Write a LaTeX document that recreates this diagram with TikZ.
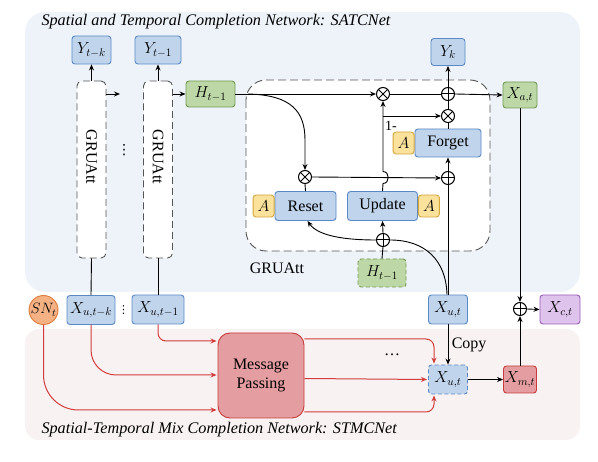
\RequirePackage{fix-cm}
\documentclass[tikz,border=0pt]{standalone}
\usepackage{fontspec}
\setmainfont{Liberation Serif}
\newfontfamily\dejavu{DejaVu Sans}
\usetikzlibrary{arrows.meta}
\definecolor{panelblue}{HTML}{EEF3F9}
\definecolor{panelpink}{HTML}{F9F2F2}
\definecolor{bfill}{HTML}{C0D4EC}
\definecolor{bdraw}{HTML}{5A8AC6}
\definecolor{gfill}{HTML}{BDD8A6}
\definecolor{gdraw}{HTML}{719A52}
\definecolor{yfill}{HTML}{FBE29C}
\definecolor{ydraw}{HTML}{D4A63A}
\definecolor{ofill}{HTML}{F4B183}
\definecolor{odraw}{HTML}{E07B39}
\definecolor{pfill}{HTML}{DEC3EC}
\definecolor{pdraw}{HTML}{9A5BB8}
\definecolor{rfill}{HTML}{E49DA1}
\definecolor{rdraw}{HTML}{C63B3B}
\definecolor{rline}{HTML}{D23C3C}
\definecolor{dgray}{HTML}{555555}
\tikzset{
  bx/.style={draw, rounded corners=3pt, line width=0.9pt, inner sep=0pt, font=\fontsize{16}{18}\selectfont},
  bluebox/.style={bx, fill=bfill, draw=bdraw},
  greenbox/.style={bx, fill=gfill, draw=gdraw},
  abox/.style={bx, fill=yfill, draw=ydraw, minimum width=21pt, minimum height=22pt},
  gru/.style={draw=dgray, dashed, dash pattern=on 7pt off 4pt, line width=0.9pt, rounded corners=5pt, fill=white, minimum width=29pt, minimum height=177pt},
  opnode/.style={circle, draw, line width=1pt, minimum size=13pt, inner sep=0pt},
  otim/.style={opnode, path picture={\draw[line width=1pt] (path picture bounding box.north west) -- (path picture bounding box.south east) (path picture bounding box.north east) -- (path picture bounding box.south west);}},
  oplu/.style={opnode, path picture={\draw[line width=1pt] (path picture bounding box.north) -- (path picture bounding box.south) (path picture bounding box.east) -- (path picture bounding box.west);}},
  ln/.style={line width=0.9pt},
  arr/.style={ln, -{Stealth[length=6pt,width=5pt]}},
  rarr/.style={line width=1pt, draw=rline, -{Stealth[length=6pt,width=5pt]}, shorten >=1pt},
  txt/.style={font=\fontsize{16}{18}\selectfont},
  ttl/.style={anchor=west, font=\fontsize{16.2}{18}\selectfont\itshape},
  vdt/.style={inner sep=0pt},
}
\begin{document}
\begin{tikzpicture}[x=1pt,y=-1pt]
\useasboundingbox (0,0) rectangle (598,462);
% panels
\fill[panelblue, rounded corners=20pt] (25,12) rectangle (580,292);
\fill[panelpink, rounded corners=14pt] (25,329) rectangle (580,440);
\node[ttl] (t1) at (38,22) {Spatial and Temporal Completion Network: SATCNet};
\node[ttl] (t2) at (38,430) {Spatial-Temporal Mix Completion Network: STMCNet};
% GRUAtt big dashed box
\draw[draw=dgray, dash pattern=on 8pt off 4pt, line width=0.9pt, rounded corners=20pt, fill=white] (246,80) rectangle (490,251);
\node[txt] (glab) at (277,268) {GRUAtt};
% left columns
\node[bluebox, minimum width=39pt, minimum height=28pt] (ytk) at (91.5,50) {$Y_{t-k}$};
\node[bluebox, minimum width=46pt, minimum height=28pt] (yt1) at (158,50) {$Y_{t-1}$};
\node[gru] (g1) at (91.5,169.5) {};
\node[gru] (g2) at (158,169.5) {};
\node[rotate=-90, txt] (g1t) at (91.5,157) {GRUAtt};
\node[rotate=-90, txt] (g2t) at (158,157) {GRUAtt};
\node[vdt, font=\dejavu\fontsize{14}{14}\selectfont] (vd1) at (124,150) {⋮};
\node[greenbox, minimum width=49pt, minimum height=26pt] (h) at (210.5,94) {$H_{t-1}$};
\coordinate (c1) at (120,94);
\draw[arr] (g1.north) -- (ytk.south);
\draw[arr] (g2.north) -- (yt1.south);
\draw[arr] (g1.east |- c1) -- (c1);
\draw[arr] (g2.east |- h.west) -- (h.west);
% inputs
\node[bluebox, minimum width=48pt, minimum height=29pt] (xk) at (91,310) {$X_{u,t-k}$};
\node[bluebox, minimum width=52pt, minimum height=29pt] (xt1) at (158,309.5) {$X_{u,t-1}$};
\node[vdt, font=\dejavu\fontsize{11}{11}\selectfont] (vd2) at (123.5,310) {⋮};
\node[circle, draw=odraw, fill=ofill, line width=0.9pt, minimum size=29pt, inner sep=0pt, font=\fontsize{15}{17}\selectfont] (sn) at (43.5,310) {$SN_t$};
\draw[ln] (g1.south) -- (xk.north);
\draw[ln] (g2.south) -- (xt1.north);
% GRUAtt internals
\node[otim] (m1) at (383,94) {};
\node[oplu] (p1) at (448,94) {};
\node[otim] (m2) at (448,116) {};
\node[bluebox, minimum width=66pt, minimum height=28pt] (forget) at (448,143) {Forget};
\node[abox, anchor=east] (af) at (forget.west) {$A$};
\node[oplu] (p3) at (448,178) {};
\node[otim] (m3) at (305,177) {};
\node[bluebox, minimum width=61pt, minimum height=29pt] (reset) at (305.5,206) {Reset};
\node[abox, anchor=east] (ar) at (reset.west) {$A$};
\node[bluebox, minimum width=70pt, minimum height=29pt] (update) at (382.5,206) {Update};
\node[abox, anchor=west] (au) at (update.east) {$A$};
\node[oplu] (p4) at (383,240) {};
\node[greenbox, dashed, dash pattern=on 4pt off 2.5pt, minimum width=48pt, minimum height=28pt] (hd) at (382,273) {$H_{t-1}$};
\node[bluebox, minimum width=39pt, minimum height=29pt] (xut) at (448,309.5) {$X_{u,t}$};
\node[bluebox, minimum width=34pt, minimum height=27pt] (yk) at (448,52) {$Y_k$};
\node[greenbox, minimum width=34pt, minimum height=26pt] (xa) at (520,95) {$X_{a,t}$};
\node[oplu] (p5) at (520,309) {};
\node[bx, fill=pfill, draw=pdraw, minimum width=40pt, minimum height=29pt] (xc) at (560,309.5) {$X_{c,t}$};
\node[bx, fill=rfill, draw=rdraw, minimum width=33pt, minimum height=27pt] (xm) at (520,379.5) {$X_{m,t}$};
\node[bluebox, dashed, dash pattern=on 4pt off 2.5pt, minimum width=39pt, minimum height=29pt] (xud) at (448,379.5) {$X_{u,t}$};
\node[bx, fill=rfill, draw=rdraw, rounded corners=12pt, minimum width=86pt, minimum height=85pt, align=center, font=\fontsize{16}{19}\selectfont] (mp) at (261,375.5) {Message\\Passing};
\node[txt] (dots) at (392,355) {\dots};
% connections
\coordinate (hs) at (248,94);
\coordinate (br) at (383,116);
\draw[arr] (h.east) -- (m1.west);
\draw[ln] (m1.east) -- (p1.west);
\draw[arr] (p1.east) -- (xa.west);
\draw[arr] (p1.north) -- (yk.south);
\draw[ln] (m2.north) -- (p1.south);
\draw[ln] (forget.north) -- (m2.south);
\draw[arr] (p3.north) -- (forget.south);
\draw[ln] (xut.north) -- (p3.south);
\draw[arr] (m3.east) -- (p3.west);
\draw[arr] (update.north) -- (383,183.5) .. controls (390,183.5) and (390,171.5) .. (383,171.5) -- (m1.south);
\draw[arr] (br) -- (m2.west);
\node[font=\fontsize{14}{16}\selectfont] (one) at (391,126) {1-};
\draw[arr] (hs) .. controls (292,95) and (305,112) .. (305,140) -- (m3.north);
\draw[ln] (reset.north) -- (m3.south);
\draw[ln] (hd.north) -- (p4.south);
\draw[arr] (p4.north) -- (update.south);
\draw[ln] ([xshift=-1pt]xut.north) .. controls (446,260) and (425,240) .. (p4.east);
\draw[arr] (p4.west) .. controls (345,240) and (318,236) .. ([xshift=2pt]reset.south);
\draw[arr] (xa.south) -- (p5.north);
\draw[arr] (p5.east) -- (xc.west);
\draw[arr] (xm.north) -- (p5.south);
\draw[arr] (xut.south) -- node[right, txt] {Copy} (xud.north);
\draw[arr] (xud.east) -- (xm.west);
% red arrows
\draw[rarr, rounded corners=8pt] (xt1.south) |- (mp.west |- 0,341);
\draw[rarr, rounded corners=25pt] (xk.south) |- (mp.west |- 0,375);
\draw[rarr, rounded corners=35pt] (sn.south) |- (mp.west |- 0,410);
\draw[rarr, rounded corners=8pt] (mp.east |- 0,339) -| ([xshift=-14pt]xud.north);
\draw[rarr] (mp.east |- 0,378.5) -- (xud.west);
\draw[rarr, rounded corners=8pt] (mp.east |- 0,412) -| ([xshift=-14pt]xud.south);
\end{tikzpicture}
\end{document}
